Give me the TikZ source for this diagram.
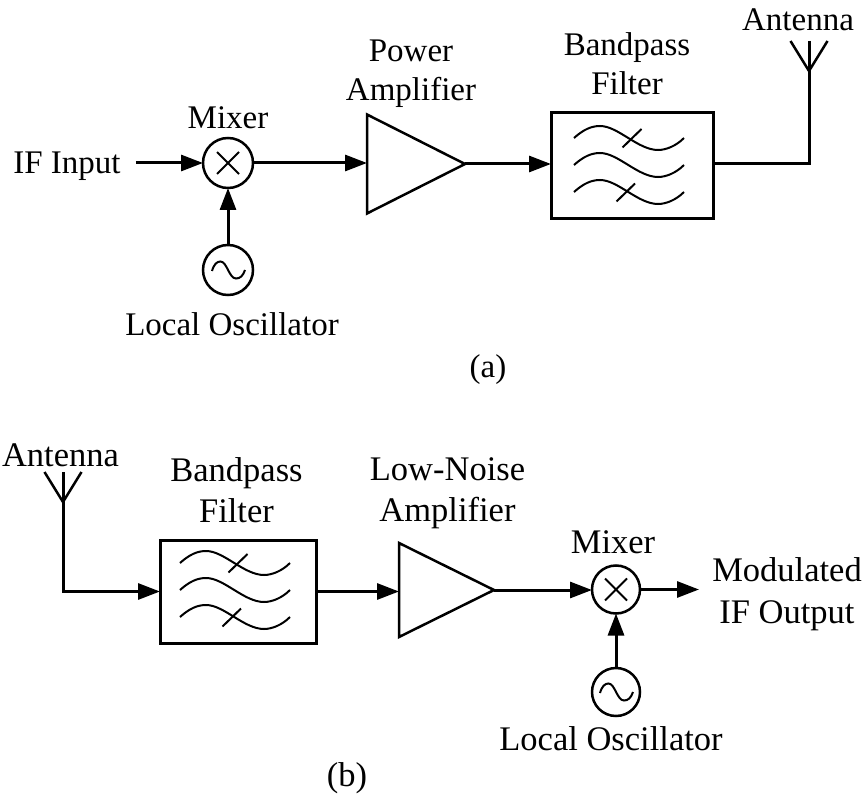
\documentclass[tikz,border=0pt]{standalone}
\usepackage{fontspec}
\setmainfont{Liberation Serif}
\usetikzlibrary{arrows.meta,shapes.geometric}
\tikzset{
	sig/.style={line width=3pt,-{Triangle[length=22pt,width=16pt]}},
	wire/.style={line width=3pt},
	lbl/.style={align=center,inner sep=0pt,font=\fontsize{33}{39}\selectfont},
	lblb/.style={align=center,inner sep=0pt,font=\fontsize{34.5}{41.5}\selectfont},
	mixer/.style={circle,draw,line width=2.5pt,minimum size=50pt,inner sep=0pt,outer sep=0pt,
		path picture={\draw[line width=2pt,shift={(path picture bounding box.center)}]
			(-11,-11) -- (11,11) (-11,11) -- (11,-11);}},
	osc/.style={circle,draw,line width=2.5pt,minimum size=50pt,inner sep=0pt,outer sep=0pt,
		path picture={\draw[line width=2pt,shift={(path picture bounding box.center)}]
			(-16,1) .. controls (-14,-6) and (-11,-8.5) .. (-7.5,-8.5)
			.. controls (-1,-8.5) and (1,8.5) .. (8,8.5)
			.. controls (12,8.5) and (15,6) .. (17,0);}},
	amp/.style={isosceles triangle,isosceles triangle stretches,draw,line width=2.5pt,
		minimum width=99pt,minimum height=98pt,inner sep=0pt,outer sep=0pt,anchor=lower side},
	filt/.style={rectangle,draw,line width=3pt,minimum width=162pt,minimum height=106pt,
		inner sep=0pt,outer sep=0pt},
	pics/waves/.style={code={
		\foreach \dy in {0,27,54}
			\draw[line width=2pt,yshift=-\dy pt] (-58,-28) .. controls (-48,-37) and (-40,-40) .. (-32,-40)
				.. controls (-14,-40) and (6,-16) .. (26,-16)
				.. controls (34,-16) and (44,-20) .. (52,-28);
		\draw[line width=2pt] (-9.5,-18.5) -- (9.5,-37);
		\draw[line width=2pt] (-15.5,35.5) -- (3,17.5);
	}},
	pics/antenna/.style={code={
		\coordinate (-base) at (0,0);
		\coordinate (-top) at (0,-30);
		\draw[line width=2.5pt] (-18.5,-30) -- (0,0) -- (18.5,-30);
		\draw[line width=3pt] (-top) -- (-base);
	}}
}
\begin{document}
\begin{tikzpicture}[x=1pt,y=-1pt]
	\useasboundingbox (0,0) rectangle (862,794);
	% (a)
	\node[mixer] (mixa) at (228,163) {};
	\node[osc] (losca) at (228,270) {};
	\node[amp] (ampa) at (367,164) {};
	\node[filt] (filta) at (632,166) {};
	\pic at (632,166) {waves};
	\pic (anta) at (809,71) {antenna};
	\node[lbl] (ifin) at (67,166) {IF Input};
	\node[lbl] at (228,118) {Mixer};
	\node[lbl] at (232,324) {Local Oscillator};
	\node[lbl] at (411,74) {Power\\Amplifier};
	\node[lbl] at (627,64) {Bandpass\\Filter};
	\node[lbl] at (798,20) {Antenna};
	\node[lbl] at (488,370) {(a)};
	\draw[sig,shorten <=15pt] (ifin.east |- mixa) -- (mixa);
	\draw[sig] (losca) -- (mixa);
	\draw[sig] (mixa) -- (mixa -| ampa.lower side);
	\draw[sig] (ampa.apex) -- (filta.west |- ampa.apex);
	\draw[wire] (filta.east |- ampa.apex) -| (anta-base);
	% (b)
	\node[filt,minimum width=156pt,minimum height=103pt] (filtb) at (238,591.5) {};
	\pic at (238,591) {waves};
	\node[amp,minimum width=94pt,minimum height=95pt] (ampb) at (399,590) {};
	\node[mixer,minimum size=48pt] (mixb) at (616,589.5) {};
	\node[osc,minimum size=48pt] (loscb) at (616,692) {};
	\pic (antb) at (63,502) {antenna};
	\coordinate (outb) at (699,589.5);
	\node[lblb] at (60.5,455.5) {Antenna};
	\node[lblb] at (236.5,490) {Bandpass\\Filter};
	\node[lblb] at (447.5,493) {Low-Noise\\Amplifier};
	\node[lblb] at (613,542) {Mixer};
	\node[lblb] at (787,594) {Modulated\\IF Output};
	\node[lblb] at (611,738.5) {Local Oscillator};
	\node[lblb] at (347,778) {(b)};
	\draw[sig] (antb-base) |- (filtb.west);
	\draw[sig] (filtb.east) -- (filtb.east -| ampb.lower side);
	\draw[sig] (ampb.apex) -- (ampb.apex -| mixb.west);
	\draw[sig] (loscb) -- (mixb);
	\draw[sig] (mixb) -- (outb);
\end{tikzpicture}
\end{document}
